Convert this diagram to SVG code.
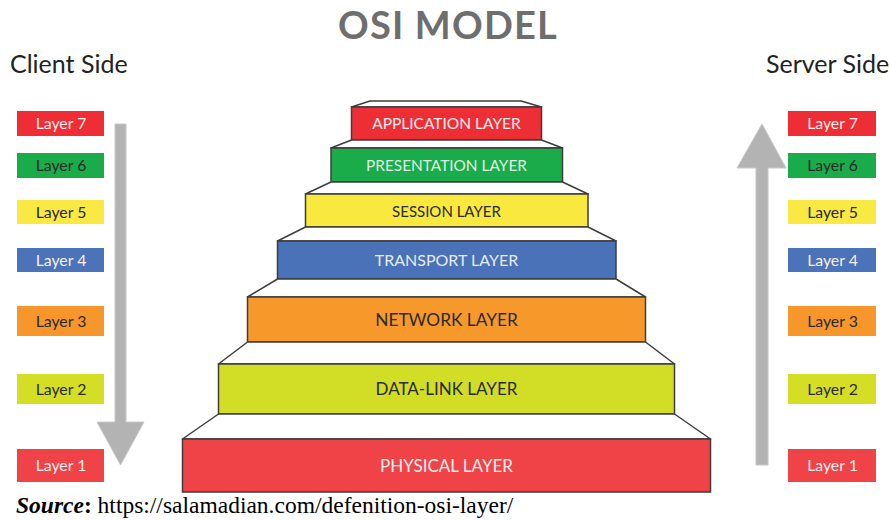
<svg xmlns="http://www.w3.org/2000/svg" width="890" height="520" viewBox="0 0 890 520">
  <style>
    .step { fill: #ffffff; stroke: #3d3d3d; stroke-width: 1.5; stroke-linejoin: round; }
    .box { stroke: #3d3d3d; stroke-width: 1.5; }
    .name { font-family: Lato, "Open Sans", "Liberation Sans", sans-serif; text-anchor: middle; }
    .tag { font-family: Lato, "Open Sans", "Liberation Sans", sans-serif; font-size: 15.8px; text-anchor: middle; }
    .side { font-family: Lato, "Open Sans", "Liberation Sans", sans-serif; font-size: 25px; fill: #222222; }
    .light { fill: #fbeeee; }
    .dark { fill: #2a2a2a; }
    .arrow { fill: #b3b3b3; stroke: #c8c8c8; stroke-width: 1; }
  </style>

  <!-- title -->
  <text x="448" y="39" font-family="Lato, 'Open Sans', 'Liberation Sans', sans-serif" font-weight="bold" font-size="38" fill="#6e6e6e" text-anchor="middle" letter-spacing="1.2">OSI MODEL</text>

  <text class="side" x="10" y="73">Client Side</text>
  <text class="side" x="766" y="73">Server Side</text>

  <!-- direction arrows -->
  <g id="connectors">
    <path class="arrow" d="M115,124 H126 V422 H144 L120.5,465 L97,422 H115 Z"/>
    <path class="arrow" d="M756,465 V168 H737 L762,124 L786,168 H768 V465 Z"/>
  </g>

  <!-- client side layer tags -->
  <g id="client-layer-7"><rect x="17" y="111" width="87" height="25" fill="#ee2d34"/><text class="tag light" x="61" y="129">Layer 7</text></g>
  <g id="client-layer-6"><rect x="17" y="153" width="87" height="25" fill="#1aab4b"/><text class="tag dark" x="61" y="171">Layer 6</text></g>
  <g id="client-layer-5"><rect x="17" y="200" width="87" height="24" fill="#fbe943"/><text class="tag dark" x="61" y="218">Layer 5</text></g>
  <g id="client-layer-4"><rect x="17" y="248" width="87" height="24" fill="#4a73b9"/><text class="tag light" x="61" y="266">Layer 4</text></g>
  <g id="client-layer-3"><rect x="17" y="306" width="87" height="30" fill="#f7962b"/><text class="tag dark" x="61" y="327">Layer 3</text></g>
  <g id="client-layer-2"><rect x="17" y="374" width="87" height="30" fill="#d3de25"/><text class="tag dark" x="61" y="395">Layer 2</text></g>
  <g id="client-layer-1"><rect x="17" y="449" width="87" height="33" fill="#ef4348"/><text class="tag light" x="61" y="471">Layer 1</text></g>

  <!-- server side layer tags -->
  <g id="server-layer-7"><rect x="788" y="111" width="88" height="25" fill="#ee2d34"/><text class="tag light" x="832.5" y="129">Layer 7</text></g>
  <g id="server-layer-6"><rect x="788" y="153" width="88" height="25" fill="#1aab4b"/><text class="tag dark" x="832.5" y="171">Layer 6</text></g>
  <g id="server-layer-5"><rect x="788" y="200" width="88" height="24" fill="#fbe943"/><text class="tag dark" x="832.5" y="218">Layer 5</text></g>
  <g id="server-layer-4"><rect x="788" y="248" width="88" height="24" fill="#4a73b9"/><text class="tag light" x="832.5" y="266">Layer 4</text></g>
  <g id="server-layer-3"><rect x="788" y="306" width="88" height="30" fill="#f7962b"/><text class="tag dark" x="832.5" y="327">Layer 3</text></g>
  <g id="server-layer-2"><rect x="788" y="374" width="88" height="30" fill="#d3de25"/><text class="tag dark" x="832.5" y="395">Layer 2</text></g>
  <g id="server-layer-1"><rect x="788" y="449" width="88" height="33" fill="#ef4348"/><text class="tag light" x="832.5" y="471">Layer 1</text></g>

  <!-- stepped pyramid -->
  <g id="application-layer">
    <polygon class="step" points="351.5,107 370,101 521,101 541.5,107"/>
    <rect class="box" x="351.5" y="107" width="190" height="33" fill="#ee2e35"/>
    <text class="name light" x="446.5" y="129" font-size="15.5">APPLICATION LAYER</text>
  </g>
  <g id="presentation-layer">
    <polygon class="step" points="351.5,140 541.5,140 562.5,148 331,148"/>
    <rect class="box" x="331" y="148" width="231.5" height="34" fill="#1aab4b"/>
    <text class="name" x="446.5" y="171" font-size="15.4" fill="#dff3e3">PRESENTATION LAYER</text>
  </g>
  <g id="session-layer">
    <polygon class="step" points="331,182 562.5,182 588,194 305.5,194"/>
    <rect class="box" x="305.5" y="194" width="282.5" height="33" fill="#f9e93f"/>
    <text class="name dark" x="446.5" y="217" font-size="15">SESSION LAYER</text>
  </g>
  <g id="transport-layer">
    <polygon class="step" points="305.5,227 588,227 616,241 277.5,241"/>
    <rect class="box" x="277.5" y="241" width="338.5" height="38" fill="#4a72b8"/>
    <text class="name" x="446.5" y="266" font-size="16" fill="#e6ebf5">TRANSPORT LAYER</text>
  </g>
  <g id="network-layer">
    <polygon class="step" points="277.5,279 616,279 645.5,297 247.5,297"/>
    <rect class="box" x="247.5" y="297" width="398" height="45" fill="#f7992a"/>
    <text class="name dark" x="446.5" y="326" font-size="17.3">NETWORK LAYER</text>
  </g>
  <g id="data-link-layer">
    <polygon class="step" points="247.5,342 645.5,342 674.5,364 218.5,364"/>
    <rect class="box" x="218.5" y="364" width="456" height="50" fill="#d2dd25"/>
    <text class="name dark" x="446.5" y="395" font-size="17">DATA-LINK LAYER</text>
  </g>
  <g id="physical-layer">
    <polygon class="step" points="218.5,414 674.5,414 710.5,439 182.5,439"/>
    <rect class="box" x="182.5" y="439" width="528" height="53" fill="#ef4347"/>
    <text class="name light" x="446.5" y="472" font-size="17">PHYSICAL LAYER</text>
  </g>

  <!-- citation -->
  <text x="16" y="513" font-family="'Liberation Serif', 'Times New Roman', serif" font-size="23.5" fill="#000000"><tspan font-weight="bold" font-style="italic">Source</tspan><tspan font-weight="bold">:</tspan> https://salamadian.com/defenition-osi-layer/</text>
</svg>
